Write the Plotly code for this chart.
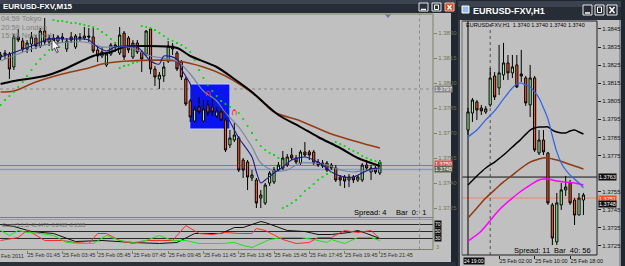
import plotly.graph_objects as go

W, H = 625, 266
FONT = "Liberation Sans Narrow, Liberation Sans, Arial, sans-serif"

# ---------------- EURUSD M15 (left window) ----------------
m15_open = [
    1.38156, 1.38168, 1.38174, 1.38096, 1.38276, 1.38252, 1.38204, 1.38234, 1.38270, 1.38222,
    1.38312, 1.38246, 1.38270, 1.38252, 1.38276, 1.38204, 1.38276, 1.38216, 1.38276, 1.38270,
    1.38282, 1.38276, 1.38198, 1.38162, 1.38108, 1.38174, 1.38228, 1.38180, 1.38300, 1.38270,
    1.38156, 1.38240, 1.38186, 1.38174, 1.38324, 1.38084, 1.38024, 1.38042, 1.38132, 1.38222,
    1.38180, 1.38126, 1.38024, 1.37892, 1.37772, 1.37856, 1.37772, 1.37868, 1.37856, 1.37802,
    1.37826, 1.37778, 1.37628, 1.37658, 1.37670, 1.37538, 1.37526, 1.37430, 1.37418, 1.37310,
    1.37280, 1.37400, 1.37406, 1.37478, 1.37490, 1.37508, 1.37568, 1.37550, 1.37520, 1.37586,
    1.37586, 1.37586, 1.37526, 1.37520, 1.37520, 1.37508, 1.37490, 1.37436, 1.37436, 1.37418,
    1.37436, 1.37418, 1.37418, 1.37508, 1.37466, 1.37490, 1.37460]
m15_high = [
    1.38186, 1.38198, 1.38186, 1.38294, 1.38324, 1.38270, 1.38258, 1.38306, 1.38288, 1.38330,
    1.38390, 1.38288, 1.38294, 1.38288, 1.38300, 1.38270, 1.38306, 1.38294, 1.38300, 1.38336,
    1.38330, 1.38330, 1.38222, 1.38216, 1.38186, 1.38240, 1.38246, 1.38336, 1.38312, 1.38282,
    1.38258, 1.38258, 1.38198, 1.38318, 1.38324, 1.38102, 1.38066, 1.38126, 1.38252, 1.38240,
    1.38192, 1.38138, 1.38036, 1.37904, 1.37862, 1.37916, 1.37898, 1.37898, 1.37910, 1.37850,
    1.37850, 1.37790, 1.37718, 1.37760, 1.37682, 1.37550, 1.37538, 1.37478, 1.37430, 1.37358,
    1.37400, 1.37472, 1.37496, 1.37526, 1.37592, 1.37574, 1.37610, 1.37568, 1.37598, 1.37646,
    1.37598, 1.37598, 1.37544, 1.37538, 1.37532, 1.37520, 1.37508, 1.37448, 1.37448, 1.37454,
    1.37448, 1.37448, 1.37520, 1.37538, 1.37508, 1.37502, 1.37538]
m15_low = [
    1.38138, 1.38144, 1.38024, 1.38078, 1.38246, 1.38186, 1.38180, 1.38186, 1.38204, 1.38210,
    1.38228, 1.38222, 1.38240, 1.38234, 1.38246, 1.38186, 1.38240, 1.38204, 1.38252, 1.38258,
    1.38246, 1.38180, 1.38126, 1.38150, 1.38096, 1.38162, 1.38186, 1.38168, 1.38138, 1.38180,
    1.38144, 1.38174, 1.38066, 1.38162, 1.38054, 1.37982, 1.37964, 1.38006, 1.38120, 1.38168,
    1.38072, 1.38018, 1.37862, 1.37766, 1.37760, 1.37814, 1.37760, 1.37802, 1.37802, 1.37790,
    1.37772, 1.37586, 1.37610, 1.37646, 1.37466, 1.37430, 1.37358, 1.37412, 1.37250, 1.37250,
    1.37268, 1.37382, 1.37394, 1.37466, 1.37478, 1.37496, 1.37538, 1.37514, 1.37508, 1.37556,
    1.37538, 1.37508, 1.37496, 1.37490, 1.37466, 1.37478, 1.37406, 1.37382, 1.37370, 1.37376,
    1.37400, 1.37406, 1.37406, 1.37478, 1.37418, 1.37454, 1.37448]
m15_close = [
    1.38168, 1.38180, 1.38084, 1.38276, 1.38258, 1.38204, 1.38240, 1.38276, 1.38222, 1.38312,
    1.38246, 1.38270, 1.38252, 1.38276, 1.38264, 1.38252, 1.38258, 1.38282, 1.38270, 1.38282,
    1.38276, 1.38192, 1.38162, 1.38186, 1.38174, 1.38228, 1.38216, 1.38288, 1.38156, 1.38198,
    1.38240, 1.38186, 1.38144, 1.38312, 1.38084, 1.38036, 1.38048, 1.38096, 1.38222, 1.38204,
    1.38084, 1.38036, 1.37874, 1.37796, 1.37844, 1.37826, 1.37844, 1.37820, 1.37826, 1.37832,
    1.37778, 1.37598, 1.37670, 1.37688, 1.37478, 1.37478, 1.37436, 1.37448, 1.37280, 1.37328,
    1.37388, 1.37460, 1.37478, 1.37508, 1.37550, 1.37556, 1.37550, 1.37526, 1.37586, 1.37568,
    1.37568, 1.37520, 1.37508, 1.37502, 1.37478, 1.37490, 1.37418, 1.37418, 1.37412, 1.37436,
    1.37418, 1.37436, 1.37508, 1.37490, 1.37490, 1.37466, 1.37526]
m15_idx = list(range(len(m15_close)))

m15_sar = [
    1.37868, 1.37898, 1.37922, 1.37946, 1.37976, 1.38006, 1.38042, 1.38078, 1.38114, 1.38144,
    1.38168, 1.38198, 1.38378, 1.38372, 1.38372, 1.38366, 1.38360, 1.38360, 1.38354, 1.38348,
    1.38342, 1.38336, 1.38324, 1.38306, 1.38288, 1.38264, 1.38240, 1.38090, 1.38102, 1.38108,
    1.38120, 1.38126, 1.38342, 1.38336, 1.38330, 1.38318, 1.38300, 1.38282, 1.38264, 1.38252,
    1.38240, 1.38228, 1.38210, 1.38186, 1.38138, 1.38078, 1.38030, 1.37988, 1.37952, 1.37922,
    1.37892, 1.37874, 1.37856, 1.37838, 1.37820, 1.37784, 1.37742, 1.37700, 1.37658, 1.37622,
    1.37598, 1.37580, 1.37568, 1.37550, 1.37250, 1.37262, 1.37280, 1.37298, 1.37322, 1.37352,
    1.37370, 1.37394, 1.37418, 1.37436, 1.37454, 1.37466, 1.37646, 1.37634, 1.37622, 1.37604,
    1.37592, 1.37580, 1.37562, 1.37550, 1.37538, 1.37532, 1.37526]

ma_black_idx = [0, 3, 10, 14, 21, 25, 28, 33, 40, 43, 49, 53, 57, 60, 63, 68, 72, 77, 81, 86]
ma_black = [1.37994, 1.38012, 1.38042, 1.38078, 1.38162, 1.38186, 1.38216, 1.38222, 1.38210, 1.38162,
            1.38096, 1.38024, 1.37946, 1.37874, 1.37808, 1.37736, 1.37676, 1.37610, 1.37550, 1.37502]
ma_brown_idx = [0, 3, 8, 14, 20, 23, 29, 40, 46, 51, 58, 62, 68, 75, 81, 86]
ma_brown = [1.37946, 1.37952, 1.38006, 1.38054, 1.38090, 1.38114, 1.38132, 1.38132, 1.38096, 1.38042,
            1.37922, 1.37826, 1.37772, 1.37694, 1.37646, 1.37610]
ma_fast_idx = [0, 4, 7, 11, 15, 19, 20, 22, 24, 26, 28, 31, 34, 36, 37, 40, 41, 43, 44, 46,
               49, 51, 53, 54, 57, 58, 59, 60, 62, 64, 66, 69, 71, 73, 75, 78, 80, 82, 84, 86]
ma_fast = [1.38156, 1.38192, 1.38222, 1.38264, 1.38264, 1.38264, 1.38258, 1.38216, 1.38192, 1.38216,
           1.38222, 1.38216, 1.38132, 1.38114, 1.38162, 1.38144, 1.38084, 1.37994, 1.37904, 1.37856,
           1.37856, 1.37814, 1.37718, 1.37670, 1.37556, 1.37466, 1.37400, 1.37418, 1.37460, 1.37496,
           1.37538, 1.37556, 1.37538, 1.37508, 1.37466, 1.37436, 1.37436, 1.37460, 1.37484, 1.37490]
ma_slow_idx = [0, 7, 11, 19, 23, 29, 34, 40, 43, 46, 49, 51, 54, 57, 59, 62, 65, 68, 71, 74, 77, 80, 83, 86]
ma_slow = [1.38132, 1.38204, 1.38234, 1.38246, 1.38216, 1.38216, 1.38162, 1.38132, 1.38054, 1.37952,
           1.37892, 1.37820, 1.37736, 1.37616, 1.37520, 1.37472, 1.37478, 1.37520, 1.37520, 1.37508,
           1.37478, 1.37466, 1.37478, 1.37484]

fractal_idx = [47, 53]
fractal_price = [1.37934, 1.37820]

ind_black_idx = [0, 3, 7, 12, 17, 23, 30, 36, 40, 44, 47, 50, 53, 55, 59, 60, 65, 69, 72, 75, 79, 81, 83, 86]
ind_black = [70.0, 64.3, 50.0, 44.3, 21.4, 24.3, 18.6, 15.7, 18.6, 44.3, 44.3, 44.3, 61.4, 61.4, 78.6,
             75.7, 52.9, 50.0, 41.4, 41.4, 47.1, 52.9, 44.3, 30.0]
ind_red_idx = [0, 4, 6, 7, 10, 14, 17, 20, 22, 24, 27, 30, 33, 36, 39, 42, 45, 48, 51, 54, 57, 58,
               60, 64, 67, 70, 72, 75, 78, 81, 84, 86]
ind_red = [24.3, 32.9, 52.9, 47.1, 24.3, 24.3, 18.6, 15.7, 44.3, 44.3, 24.3, 15.7, 24.3, 24.3, 24.3,
           67.1, 44.3, 41.4, 47.1, 44.3, 44.3, 58.6, 52.9, 27.1, 15.7, 18.6, 32.9, 32.9, 52.9, 47.1,
           52.9, 30.0]
ind_green_idx = [0, 2, 4, 6, 9, 12, 15, 18, 21, 24, 27, 30, 33, 36, 39, 42, 45, 50, 53, 55, 57, 61,
                 64, 68, 71, 74, 75, 78, 81, 84, 86]
ind_green = [52.9, 38.6, 52.9, 47.1, 44.3, 38.6, 18.6, 15.7, 15.7, 38.6, 24.3, 18.6, 24.3, 38.6, 24.3,
             24.3, 15.7, 15.7, 18.6, 10.0, 4.3, 27.1, 32.9, 32.9, 27.1, 18.6, 27.1, 15.7, 32.9, 32.9, 24.3]
ind_levels = [70, 50, 30]

m15_ticks = [6, 14, 22, 30, 38, 46, 54, 62, 70, 78, 86]
m15_ticktext = ['25 Feb 01:45', '25 Feb 03:45', '25 Feb 05:45', '25 Feb 07:45', '25 Feb 09:45',
                '25 Feb 11:45', '25 Feb 13:45', '25 Feb 15:45', '25 Feb 17:45', '25 Feb 19:45',
                '25 Feb 21:45']
m15_price_ticks = [1.3725, 1.3740, 1.3755, 1.3770, 1.3785, 1.3800, 1.3815, 1.3830]
m15_hline = 1.37964
m15_ask = 1.37505
m15_bid = 1.37481
m15_separator = 95
rect_obj = dict(t0=42.9, t1=52.0, p0=1.37724, p1=1.37994)

# ---------------- EURUSD H1 (right window) ----------------
h1_open = [1.37891, 1.37985, 1.38046, 1.38013, 1.37991, 1.38030, 1.38190, 1.38124, 1.38196, 1.38262,
           1.38207, 1.38251, 1.38201, 1.38179, 1.38030, 1.38179, 1.37764, 1.37836, 1.37764, 1.37477,
           1.37272, 1.37477, 1.37560, 1.37598, 1.37504, 1.37421, 1.37504]
h1_high = [1.38013, 1.38068, 1.38057, 1.38030, 1.38024, 1.38234, 1.38212, 1.38362, 1.38373, 1.38306,
           1.38306, 1.38306, 1.38334, 1.38190, 1.38251, 1.38190, 1.37891, 1.37891, 1.37770, 1.37488,
           1.37543, 1.37598, 1.37637, 1.37615, 1.37515, 1.37543, 1.37543]
h1_low = [1.37864, 1.37936, 1.37947, 1.37974, 1.37980, 1.38019, 1.38057, 1.38085, 1.38168, 1.38168,
          1.38179, 1.38124, 1.38157, 1.38024, 1.37963, 1.37770, 1.37753, 1.37753, 1.37477, 1.37255,
          1.37255, 1.37449, 1.37526, 1.37477, 1.37366, 1.37421, 1.37421]
h1_close = [1.37991, 1.38057, 1.38002, 1.37997, 1.38008, 1.38179, 1.38074, 1.38207, 1.38262, 1.38207,
            1.38240, 1.38129, 1.38190, 1.38041, 1.38179, 1.37781, 1.37836, 1.37770, 1.37488, 1.37294,
            1.37488, 1.37560, 1.37576, 1.37488, 1.37421, 1.37515, 1.37532]
h1_idx = list(range(len(h1_close)))

h1_blue_idx = [0, 2, 4, 6, 8, 10, 11, 12, 13, 14, 15, 16, 17, 18, 19, 20, 21, 22, 23, 24, 25, 26]
h1_blue = [1.37853, 1.37891, 1.37947, 1.37997, 1.38063, 1.38124, 1.38146, 1.38151, 1.38140, 1.38129,
           1.38102, 1.38068, 1.38013, 1.37952, 1.37858, 1.37770, 1.37709, 1.37670, 1.37642, 1.37620,
           1.37598, 1.37571]
h1_black_idx = [0, 2, 4, 6, 8, 10, 12, 14, 15, 16, 17, 18, 19, 20, 21, 22, 23, 24, 25, 26]
h1_black = [1.37587, 1.37637, 1.37681, 1.37714, 1.37753, 1.37797, 1.37842, 1.37891, 1.37902, 1.37908,
            1.37908, 1.37908, 1.37891, 1.37880, 1.37875, 1.37875, 1.37886, 1.37891, 1.37880, 1.37869]
h1_brown_idx = [0, 2, 4, 6, 8, 10, 12, 14, 16, 17, 18, 19, 20, 22, 24, 26]
h1_brown = [1.37405, 1.37460, 1.37515, 1.37560, 1.37604, 1.37642, 1.37681, 1.37714, 1.37731, 1.37737,
            1.37737, 1.37731, 1.37725, 1.37709, 1.37692, 1.37676]
h1_magenta_idx = [0, 3, 7, 10, 12, 14, 16, 17, 18, 20, 22, 24, 26]
h1_magenta = [1.37277, 1.37333, 1.37449, 1.37515, 1.37554, 1.37587, 1.37615, 1.37620, 1.37620, 1.37609,
              1.37604, 1.37598, 1.37587]

h1_ticks = [7, 15, 23]
h1_ticktext = ['25 Feb 02:00', '25 Feb 10:00', '25 Feb 18:00']
h1_price_ticks = [1.3725, 1.3735, 1.3745, 1.3755, 1.3775, 1.3785, 1.3795, 1.3805, 1.3815,
                  1.3825, 1.3835, 1.3845]
h1_hline = 1.37631
h1_ask = 1.37515
h1_vline = 0
h1_separator = 5

# ---------------- helpers (pixel layout) ----------------
def px(x):
    return x / W

def py(y):
    return 1 - y / H

BULL = '#9ef09a'
BEAR = '#f0582a'
OLIVE = '#7b8262'
LBL = '#6e7656'

shapes = []
annotations = []

def rect(x0, y0, x1, y1, fill, line=None, lw=0, layer='below'):
    shapes.append(dict(type='rect', xref='paper', yref='paper', x0=px(x0), x1=px(x1),
                       y0=py(y1), y1=py(y0), fillcolor=fill,
                       line=dict(color=line or fill, width=lw), layer=layer))

def seg(x0, y0, x1, y1, color, w=1, dash='solid', layer='above'):
    shapes.append(dict(type='line', xref='paper', yref='paper', x0=px(x0), x1=px(x1),
                       y0=py(y0), y1=py(y1), line=dict(color=color, width=w, dash=dash), layer=layer))

def poly(points, fill, line='black', lw=0.7):
    d = 'M ' + ' L '.join('%f %f' % (px(a), py(b)) for a, b in points) + ' Z'
    shapes.append(dict(type='path', xref='paper', yref='paper', path=d, fillcolor=fill,
                       line=dict(color=line, width=lw)))

def ann(x, y, text, size=6, color='black', xanchor='left', bg=None, bold=False, family=FONT, pad=0):
    annotations.append(dict(xref='paper', yref='paper', x=px(x), y=py(y), text=('<b>%s</b>' % text) if bold else text,
                            showarrow=False, xanchor=xanchor, yanchor='middle',
                            font=dict(size=size, color=color, family=family),
                            bgcolor=bg, borderpad=pad))

# ----- window chrome -----
rect(0, 0, 456, 13, '#262d36')
rect(0, 0, 456, 4, '#3a434f')
rect(0, 13, 451, 262, '#c0c0c0')
rect(0, 262, 456, 266, '#2a313a')
rect(458, 1, 621, 20, '#262d36')
rect(458, 1, 621, 7, '#3a434f')
rect(458, 20, 621, 266, '#c0c0c0')
rect(458, 20, 460, 266, '#39414c')
rect(619, 20, 621, 266, '#8d9299')

# title bar buttons
for (x0, x1) in [(419, 428), (432, 441)]:
    rect(x0, 3, x1, 11, '#2a313a', '#e8e8e8', 1, layer='above')
seg(421, 9.5, 426, 9.5, 'white', 1.5)
rect(434.5, 5, 438.5, 9.5, 'rgba(0,0,0,0)', 'white', 1, layer='above')
rect(445, 3, 454, 11, '#d8421e', '#f0c0b0', 1, layer='above')
seg(447.5, 5, 451.5, 9.5, 'white', 1.5)
seg(447.5, 9.5, 451.5, 5, 'white', 1.5)
for (x0, x1) in [(583, 592), (595, 604), (607, 617)]:
    rect(x0, 5, x1, 15, '#262d36', '#e8e8e8', 1, layer='above')
seg(585, 13, 590, 13, 'white', 1.5)
rect(597.5, 7, 601.5, 12.5, 'rgba(0,0,0,0)', 'white', 1, layer='above')
seg(609.5, 7, 614.5, 13, 'white', 1.5)
seg(609.5, 13, 614.5, 7, 'white', 1.5)
rect(462, 6, 469, 13, '#9dbbe6', '#ffffff', 1, layer='above')

ann(2, 6.5, 'EURUSD-FXV,M15', size=8, color='white', bold=True)
ann(472, 11, 'EURUSD-FXV,H1', size=9, color='white', bold=True)

# ----- left frames -----
seg(0, 14, 433, 14, OLIVE)
seg(433, 14, 433, 249.5, OLIVE)
seg(0, 217.5, 433, 217.5, OLIVE)
seg(0, 219.5, 433, 219.5, '#9aa080')
seg(0, 249.5, 433, 249.5, OLIVE)
poly([(385, 14.5), (391, 14.5), (388, 18)], '#6a7a9a', '#6a7a9a', 0)

# ----- right frame -----
seg(462, 21, 597, 21, '#202020')
seg(597, 21, 597, 255, '#202020')
seg(462, 255, 597, 255, '#202020')
seg(462, 21, 462, 255, '#707070')

# ----- data objects on axes -----
shapes.append(dict(type='rect', xref='x', yref='y', x0=rect_obj['t0'], x1=rect_obj['t1'],
                   y0=rect_obj['p0'], y1=rect_obj['p1'], fillcolor='#0a14f0',
                   line=dict(color='#c8d0ff', width=1), layer='below'))
shapes.append(dict(type='line', xref='paper', yref='y', x0=0, x1=px(433), y0=m15_hline, y1=m15_hline,
                   line=dict(color='#888888', width=1, dash='dot'), layer='below'))
shapes.append(dict(type='line', xref='paper', yref='y', x0=0, x1=px(433), y0=m15_ask, y1=m15_ask,
                   line=dict(color='#e85050', width=1), layer='below'))
shapes.append(dict(type='line', xref='paper', yref='y', x0=0, x1=px(433), y0=m15_bid, y1=m15_bid,
                   line=dict(color='#8a9ab8', width=1.5), layer='below'))
shapes.append(dict(type='line', xref='x', yref='paper', x0=m15_separator, x1=m15_separator,
                   y0=py(249.5), y1=py(14), line=dict(color='#8a8a8a', width=1, dash='dot')))
for lv in ind_levels:
    shapes.append(dict(type='line', xref='paper', yref='y2', x0=0, x1=px(433), y0=lv, y1=lv,
                       line=dict(color='#2a2a2a', width=1), layer='below'))

shapes.append(dict(type='line', xref='paper', yref='y3', x0=px(462), x1=px(597), y0=h1_hline, y1=h1_hline,
                   line=dict(color='#111111', width=1), layer='below'))
shapes.append(dict(type='line', xref='paper', yref='y3', x0=px(462), x1=px(597), y0=h1_ask, y1=h1_ask,
                   line=dict(color='#f0866a', width=1), layer='below'))
shapes.append(dict(type='line', xref='x3', yref='paper', x0=h1_separator, x1=h1_separator,
                   y0=py(255), y1=py(21), line=dict(color='#505050', width=1, dash='dot'), layer='below'))
shapes.append(dict(type='line', xref='x3', yref='paper', x0=h1_vline, x1=h1_vline,
                   y0=py(255), y1=py(21), line=dict(color='#000000', width=1), layer='below'))

# mouse pointer left on the M15 chart
poly([(52, 39), (52, 50.5), (54.6, 48), (56.6, 52.5), (58.2, 51.8), (56.2, 47.4), (59.6, 47.4)], 'white')

# ----- texts -----
ann(434, 89, '1.3797', size=5.5, color='white', bg='#858585')
ann(434, 164, '1.3750', size=5.5, color='white', bg='#d85a5a')
ann(434, 169, '1.3748', size=5.5, color='white', bg='#5e6650')
for lv, yy in zip(ind_levels, [224, 231, 238]):
    ann(434, yy, str(lv), size=5, color='white', bg='#101010')
ann(435, 247, '3', size=5.5, color=LBL)
ann(1, 224.5, 'Stoch(5,3,3) 41.4470 -0.2465 -0.1565', size=5, color='#6a6a6a')
ann(353, 212.5, 'Spread: 4', size=7.5, color='black')
ann(395, 212.5, 'Bar  0:  1', size=7.5, color='black')
ann(0, 256, 'Feb 2011', size=5.5, color='#303030')

ann(465, 25, 'EURUSD-FXV,H1  1.3740 1.3740 1.3740 1.3740', size=5.5, color='black')
ann(598, 177, '1.3763', size=5.5, color='white', bg='#0c0c0c')
ann(598, 198.5, '1.3751', size=5.5, color='white', bg='#ff4a1c')
ann(598, 204, '1.3748', size=5.5, color='white', bg='#0c0c0c')
ann(513, 250, 'Spread: 11', size=7.5, color='black')
ann(553, 250, 'Bar  40: 56', size=7.5, color='black')
ann(463, 260.5, '24 19:00', size=5, color='white', bg='#0c0c0c')

fig = go.Figure()

# background session labels (drawn under candles)
def lx(xp):
    return (xp - 0.6) / 4.41

def lp(yp):
    return 1.3725 + (208 - yp) * 0.00006

fig.add_trace(go.Scatter(x=[lx(1), lx(1), lx(1)], y=[lp(19.5), lp(28), lp(36.5)], mode='text',
                         text=['04:59 Tokyo', '20:59 London', '15:59 New York'],
                         textposition='middle right', textfont=dict(size=7.5, color='#808080', family=FONT),
                         xaxis='x', yaxis='y', hoverinfo='skip', showlegend=False))

fig.add_trace(go.Candlestick(x=m15_idx, open=m15_open, high=m15_high, low=m15_low, close=m15_close,
                             increasing=dict(fillcolor=BULL, line=dict(color='black', width=1)),
                             decreasing=dict(fillcolor=BEAR, line=dict(color='black', width=1)),
                             whiskerwidth=0, xaxis='x', yaxis='y', showlegend=False))

def line(xs, ys, color, w, xa, ya, shape='spline'):
    fig.add_trace(go.Scatter(x=xs, y=ys, mode='lines', line=dict(color=color, width=w, shape=shape, smoothing=0.8),
                             xaxis=xa, yaxis=ya, hoverinfo='skip', showlegend=False))

line(ma_brown_idx, ma_brown, '#963c12', 1.6, 'x', 'y')
line(ma_black_idx, ma_black, '#000000', 2, 'x', 'y')
line(ma_slow_idx, ma_slow, '#7484a4', 1.2, 'x', 'y')
line(ma_fast_idx, ma_fast, '#1c1c8c', 1.1, 'x', 'y')
fig.add_trace(go.Scatter(x=m15_idx, y=m15_sar, mode='markers',
                         marker=dict(symbol='square', size=1.8, color='#00d800', line=dict(width=0)),
                         xaxis='x', yaxis='y', hoverinfo='skip', showlegend=False))
fig.add_trace(go.Scatter(x=fractal_idx, y=fractal_price, mode='text', text=['∩', '∩'],
                         textfont=dict(size=9, color='#ff2020', family='DejaVu Sans'),
                         xaxis='x', yaxis='y', hoverinfo='skip', showlegend=False))

line(ind_black_idx, ind_black, '#101010', 1, 'x2', 'y2', 'linear')
line(ind_red_idx, ind_red, '#ff2a2a', 1, 'x2', 'y2', 'linear')
line(ind_green_idx, ind_green, '#1ee01e', 1, 'x2', 'y2', 'linear')

fig.add_trace(go.Candlestick(x=h1_idx, open=h1_open, high=h1_high, low=h1_low, close=h1_close,
                             increasing=dict(fillcolor=BULL, line=dict(color='black', width=1)),
                             decreasing=dict(fillcolor=BEAR, line=dict(color='black', width=1)),
                             whiskerwidth=0, xaxis='x3', yaxis='y3', showlegend=False))
line(h1_magenta_idx, h1_magenta, '#ff00ff', 1.5, 'x3', 'y3')
line(h1_brown_idx, h1_brown, '#8e3a10', 1.5, 'x3', 'y3')
line(h1_black_idx, h1_black, '#000000', 1.5, 'x3', 'y3')
line(h1_blue_idx, h1_blue, '#2f62ea', 1.2, 'x3', 'y3')

common = dict(showgrid=False, zeroline=False, showline=False, fixedrange=True, automargin=False)
LX = [0, 433 / W]
RX = [462 / W, 597 / W]

fig.update_layout(
    width=W, height=H, margin=dict(l=0, r=0, t=0, b=0, autoexpand=False),
    paper_bgcolor='#20272f', plot_bgcolor='rgba(0,0,0,0)', showlegend=False,
    shapes=shapes, annotations=annotations,
    xaxis=dict(domain=LX, range=[lx(0), lx(433)], anchor='y', showticklabels=False, ticks='',
               rangeslider=dict(visible=False), **common),
    yaxis=dict(domain=[py(217), py(14)], range=[lp(217), lp(14)], anchor='x', side='right',
               tickvals=m15_price_ticks, tickformat='.4f', ticks='outside', ticklen=3, tickcolor=OLIVE,
               tickfont=dict(size=6, color=LBL, family=FONT), **common),
    xaxis2=dict(domain=LX, range=[lx(0), lx(433)], anchor='y2', tickvals=m15_ticks, ticktext=m15_ticktext,
                ticks='outside', ticklen=3, tickcolor=OLIVE, ticklabelposition='outside right', tickangle=0,
                tickfont=dict(size=5.5, color='#303030', family=FONT), **common),
    yaxis2=dict(domain=[py(249.5), py(219.5)], range=[-1.43, 84.29], anchor='x2', side='right',
                showticklabels=False, ticks='', **common),
    xaxis3=dict(domain=RX, range=[(462 - 468) / 4.44, (597 - 468) / 4.44], anchor='y3',
                tickvals=h1_ticks, ticktext=h1_ticktext, ticks='outside', ticklen=3, tickcolor='#202020',
                ticklabelposition='outside right', tickangle=0,
                tickfont=dict(size=5.5, color='#101010', family=FONT),
                rangeslider=dict(visible=False), **common),
    yaxis3=dict(domain=[py(255), py(21)], range=[1.3720, 1.38494], anchor='x3', side='right',
                tickvals=h1_price_ticks, tickformat='.4f', ticks='outside', ticklen=3, tickcolor='#202020',
                tickfont=dict(size=6, color='#151515', family=FONT), **common),
)

fig.write_html('out.html')
